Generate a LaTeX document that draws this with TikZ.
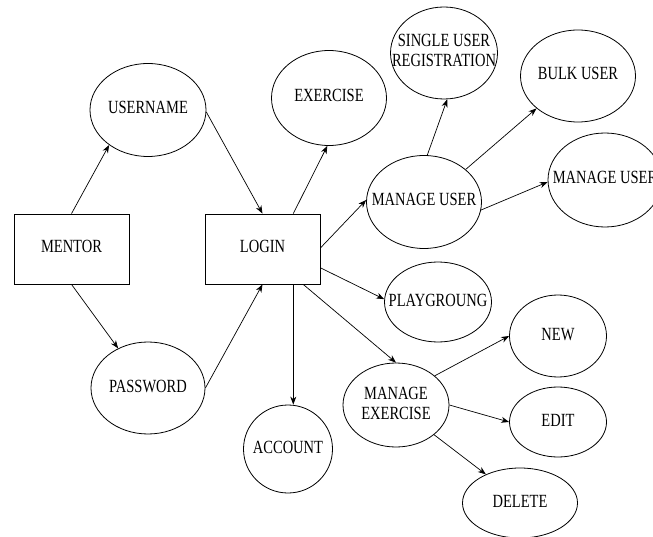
\documentclass[tikz,border=0pt]{standalone}
\usepackage{fontspec}
\setmainfont[FakeStretch=0.78]{Liberation Serif}
\usetikzlibrary{shapes.geometric,arrows.meta}
\newcommand\zw[1]{\makebox[0pt]{\begin{tabular}{@{}c@{}}#1\end{tabular}}}
\tikzset{
  ell/.style={draw, ellipse, inner sep=0pt, line width=0.8pt},
  box/.style={draw, rectangle, inner sep=0pt, line width=0.8pt, minimum width=115pt, minimum height=70pt},
  arr/.style={line width=0.7pt, -{Stealth[length=8pt,width=6pt]}},
}
\begin{document}
\begin{tikzpicture}[x=1pt,y=-1pt,font=\fontsize{18.6}{20}\selectfont]
\path[use as bounding box] (0,0) rectangle (653,537);
% boxes
\node[box] (mentor) at (71.5,249) {\zw{MENTOR}};
\node[box] (login) at (262.5,249) {\zw{LOGIN}};
% ellipses
\node[ell, minimum width=116pt, minimum height=93pt] (username) at (148,110) {\zw{USERNAME}};
\node[ell, minimum width=114pt, minimum height=92pt] (password) at (148,388) {\zw{PASSWORD}};
\node[ell, minimum width=115pt, minimum height=95pt] (exercise) at (329,98) {\zw{EXERCISE}};
\node[ell, minimum width=89pt, minimum height=88pt] (account) at (288,449) {\zw{ACCOUNT}};
\node[ell, minimum width=115pt, minimum height=93pt] (manageuser) at (424,202) {\zw{MANAGE USER}};
\node[ell, minimum width=107pt, minimum height=92pt] (single) at (444,53) {\zw{SINGLE USER\\REGISTRATION}};
\node[ell, minimum width=115pt, minimum height=92pt] (bulk) at (578,76) {\zw{BULK USER}};
\node[ell, minimum width=114pt, minimum height=94pt] (manageuser2) at (605,180) {\zw{MANAGE USER}};
\node[ell, minimum width=107pt, minimum height=80pt] (play) at (438,302) {\zw{PLAYGROUNG}};
\node[ell, minimum width=106pt, minimum height=84pt] (mex) at (396,405) {\zw{MANAGE\\EXERCISE}};
\node[ell, minimum width=97pt, minimum height=82pt] (new) at (558,336) {\zw{NEW}};
\node[ell, minimum width=97pt, minimum height=70pt] (edit) at (558,422) {\zw{EDIT}};
\node[ell, minimum width=115pt, minimum height=70pt] (delete) at (520,503) {\zw{DELETE}};
% connectors
\draw[arr] (mentor.north) -- (username.222);
\draw[arr] (username.358) -- (login.north);
\draw[arr] (mentor.south) -- (password.127);
\draw[arr] (password.east) -- (login.south);
\draw[arr] (login.49) -- (exercise.268);
\draw[arr] (login.311) -- (login.311 |- account.north);
\draw[arr] (login.1) -- (manageuser.178);
\draw[arr] (login.342.6) -- (play.177);
\draw[arr] (login.319.5) -- (mex.north);
\draw[arr] (manageuser.86) -- (single.274);
\draw[arr] (manageuser.38) -- (bulk.218);
\draw[arr] (manageuser.352) -- (manageuser2.182);
\draw[arr] (mex.37.6) -- (new.west);
\draw[arr] (mex.east) -- (edit.west);
\draw[arr] (mex.322.4) -- (delete.140);
\end{tikzpicture}
\end{document}
